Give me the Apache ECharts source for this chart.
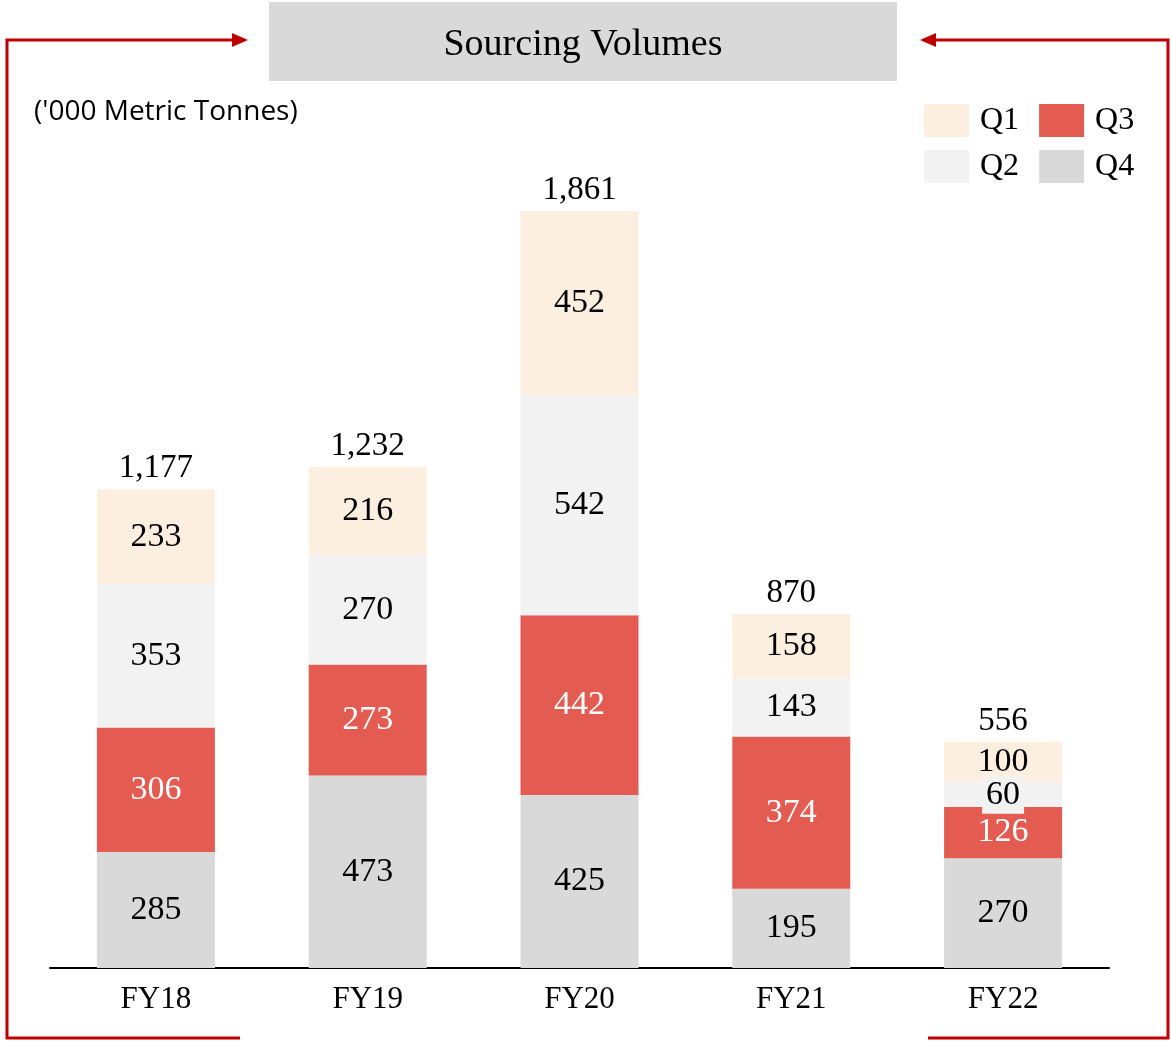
<!DOCTYPE html>
<html><head><meta charset="utf-8">
<script src="https://cdn.jsdelivr.net/npm/echarts@6/dist/echarts.min.js"></script>
<style>html,body{margin:0;padding:0;background:#fff}#c{width:1171px;height:1041px}</style>
</head><body><div id="c"></div>
<script>
var categories = ['FY18','FY19','FY20','FY21','FY22'];
var q1 = [233, 216, 452, 158, 100];
var q2 = [353, 270, 542, 143, 60];
var q3 = [306, 273, 442, 374, 126];
var q4 = [285, 473, 425, 195, 270];
var totals = [1177, 1232, 1861, 870, 556];
var titleText = 'Sourcing Volumes';
var unitText = "('000 Metric Tonnes)";

var SERIF = '"Liberation Serif", "DejaVu Serif", serif';
var colors = {Q1:'#fdefdf', Q2:'#f2f2f2', Q3:'#e35b51', Q4:'#d9d9d9'};
var red = '#c00000';

function seg(name, data, labelColor, extra) {
  var lbl = {show:true, position:'inside', color:labelColor, fontFamily:SERIF, fontSize:34, padding:[4,0,0,0]};
  if (extra) for (var k in extra) lbl[k] = extra[k];
  return {name:name, type:'bar', stack:'s', data:data, barWidth:118,
    itemStyle:{color:colors[name]}, label:lbl, emphasis:{disabled:true}};
}

var chart = echarts.init(document.getElementById('c'), null, {renderer:'canvas'});
chart.setOption({
  animation:false,
  backgroundColor:'#fff',
  grid:{left:50, right:62, top:154.4, bottom:73, containLabel:false},
  xAxis:{type:'category', data:categories,
    axisLine:{lineStyle:{color:'#000', width:2}}, axisTick:{show:false},
    axisLabel:{color:'#000', fontFamily:SERIF, fontSize:31, margin:16}},
  yAxis:{type:'value', min:0, max:2000, show:false, splitLine:{show:false}},
  legend:[
    {data:['Q1','Q3'], left:924, top:104, padding:0, itemWidth:45, itemHeight:33, itemGap:20, icon:'rect',
     textStyle:{color:'#000', fontFamily:SERIF, fontSize:32, padding:[4,0,0,6]}, selectedMode:false},
    {data:['Q2','Q4'], left:924, top:150, padding:0, itemWidth:45, itemHeight:33, itemGap:20, icon:'rect',
     textStyle:{color:'#000', fontFamily:SERIF, fontSize:32, padding:[4,0,0,6]}, selectedMode:false}
  ],
  series:[
    seg('Q4', q4, '#000'),
    seg('Q3', q3, '#fff'),
    seg('Q2', q2, '#000', {backgroundColor:'#f2f2f2', padding:[4,4,0,4]}),
    seg('Q1', q1, '#000'),
    {name:'Total', type:'scatter', data:totals, symbol:'rect', symbolSize:2,
     itemStyle:{color:'rgba(255,255,255,0)', opacity:1},
     label:{show:true, position:'top', distance:3, color:'#000', fontFamily:SERIF, fontSize:33,
       formatter:function(p){return p.value.toLocaleString('en-US');}},
     emphasis:{disabled:true}, silent:true, z:10}
  ],
  graphic:[
    {type:'rect', shape:{x:269, y:2, width:628, height:79}, style:{fill:'#d9d9d9'}},
    {type:'text', x:583, y:45, style:{text:titleText, fill:'#000', font:'38px '+SERIF, align:'center', verticalAlign:'middle'}},
    {type:'text', x:34, y:112, style:{text:unitText, fill:'#000', font:'28px "Open Sans", "Liberation Sans", sans-serif', align:'left', verticalAlign:'middle'}},
    {type:'polyline', shape:{points:[[240,1038],[7,1038],[7,40],[234,40]]}, style:{stroke:red, lineWidth:3, fill:null}},
    {type:'polygon', shape:{points:[[248,40],[232,33],[232,47]]}, style:{fill:red}},
    {type:'polyline', shape:{points:[[928,1038],[1168,1038],[1168,40],[934,40]]}, style:{stroke:red, lineWidth:3, fill:null}},
    {type:'polygon', shape:{points:[[920,40],[936,33],[936,47]]}, style:{fill:red}}
  ]
});
</script></body></html>
